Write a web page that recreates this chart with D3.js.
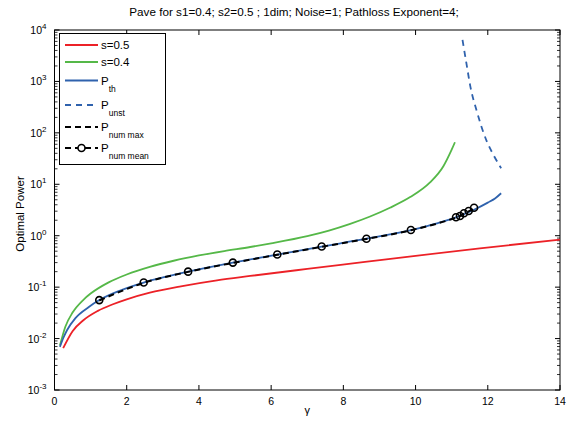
<!DOCTYPE html>
<html><head><meta charset="utf-8">
<script src="https://cdn.jsdelivr.net/npm/d3@7"></script>
<style>body{margin:0;background:#fff;} svg{font-family:"Liberation Sans",Arial,sans-serif;}</style>
</head><body>
<svg id="c" width="567" height="421"></svg>
<script>
const titleText = "Pave for s1=0.4; s2=0.5 ; 1dim; Noise=1; Pathloss Exponent=4;";
const xTicks = [0,2,4,6,8,10,12,14];
const yExps = [-3,-2,-1,0,1,2,3,4];
// s=0.5
const redX = [0.24,0.5,0.8,1.2,1.6,2.0,2.64,3.5,4.5,5.42,7.0,8.6,10.0,11.78,14];
const redY = [0.0065,0.0139,0.0227,0.0345,0.046,0.058,0.078,0.104,0.136,0.165,0.226,0.309,0.407,0.569,0.84];
// s=0.4
const greenX = [0.15,0.3,0.5,0.8,1.0,1.5,2.0,2.64,3.3,4.0,4.7,5.42,6.0,7.0,7.6,8.19,8.74,9.29,9.85,10.4,10.77,11.0,11.09];
const greenY = [0.0073,0.017,0.032,0.0568,0.075,0.124,0.176,0.248,0.326,0.413,0.503,0.603,0.712,0.983,1.26,1.70,2.36,3.50,5.64,10.9,22.5,47.2,65.7];
// P_th
const thX = [0.15,0.25,0.35,0.58,0.95,1.24,1.8,2.47,3.1,3.7,4.3,4.94,6.17,7.4,8.64,9.87,10.59,11.12,11.62,12.0,12.2,12.37];
const thY = [0.0069,0.0105,0.0147,0.025,0.041,0.056,0.085,0.123,0.16,0.2,0.245,0.30,0.43,0.615,0.875,1.29,1.74,2.28,3.2,4.4,5.3,6.7];
// P_unst
const unX = [11.30,11.42,11.51,11.70,11.97,12.15,12.37];
const unY = [6400,2000,850,257,69,38,20.5];
// P_num max
const maxX = [1.24,2.47,3.7,4.94,6.17,7.4,8.64,9.87,11.12,11.23,11.34,11.47,11.62];
const maxY = [0.055,0.121,0.198,0.296,0.425,0.61,0.865,1.28,2.25,2.4,2.68,2.98,3.4];
// P_num mean
const meanX = [1.24,2.47,3.7,4.94,6.17,7.4,8.64,9.87,11.12,11.23,11.34,11.47,11.62];
const meanY = [0.056,0.123,0.2,0.30,0.43,0.615,0.875,1.29,2.28,2.42,2.73,3.02,3.5];

const legendLabels = [["s=0.5",""],["s=0.4",""],["P","th"],["P","unst"],["P","num max"],["P","num mean"]];

const L=54.5,R=560,T=30,B=390;
const svg=d3.select("#c");
const x=d3.scaleLinear().domain([0,14]).range([L,R]);
const y=d3.scaleLog().domain([1e-3,1e4]).range([B,T]);

const ax=svg.append("g");
xTicks.forEach(v=>{
  ax.append("line").attr("x1",x(v)).attr("x2",x(v)).attr("y1",B).attr("y2",B-5).attr("stroke","#000");
  ax.append("line").attr("x1",x(v)).attr("x2",x(v)).attr("y1",T).attr("y2",T+5).attr("stroke","#000");
  ax.append("text").attr("x",x(v)).attr("y",B+15).attr("text-anchor","middle").attr("font-size",10.5).text(v);
});
yExps.forEach(e=>{
  const v=Math.pow(10,e);
  ax.append("line").attr("x1",L).attr("x2",L+5).attr("y1",y(v)).attr("y2",y(v)).attr("stroke","#000");
  ax.append("line").attr("x1",R).attr("x2",R-5).attr("y1",y(v)).attr("y2",y(v)).attr("stroke","#000");
  if(e<4){for(let m=2;m<=9;m++){const mv=m*v;
    ax.append("line").attr("x1",L).attr("x2",L+3).attr("y1",y(mv)).attr("y2",y(mv)).attr("stroke","#000").attr("stroke-width",0.8);
    ax.append("line").attr("x1",R).attr("x2",R-3).attr("y1",y(mv)).attr("y2",y(mv)).attr("stroke","#000").attr("stroke-width",0.8);}}
  const t=ax.append("text").attr("x",L-8).attr("y",y(v)+4).attr("text-anchor","end").attr("font-size",10.5);
  t.append("tspan").text("10");
  t.append("tspan").attr("dy",-5).attr("font-size",8).text(e);
});
svg.append("rect").attr("x",L).attr("y",T).attr("width",R-L).attr("height",B-T).attr("fill","none").attr("stroke","#000").attr("stroke-width",1);

const line=d3.line().x(d=>x(d[0])).y(d=>y(d[1])).curve(d3.curveMonotoneX);
const zip=(a,b)=>a.map((v,i)=>[v,b[i]]);
const g=svg.append("g");
g.append("path").attr("d",line(zip(redX,redY))).attr("fill","none").attr("stroke","#ec2127").attr("stroke-width",1.8);
g.append("path").attr("d",line(zip(greenX,greenY))).attr("fill","none").attr("stroke","#55b848").attr("stroke-width",1.8);
g.append("path").attr("d",line(zip(thX,thY))).attr("fill","none").attr("stroke","#2f62ad").attr("stroke-width",1.8);
g.append("path").attr("d",line(zip(unX,unY))).attr("fill","none").attr("stroke","#2f62ad").attr("stroke-width",1.8).attr("stroke-dasharray","6,5");
g.append("path").attr("d",line(zip(maxX,maxY))).attr("fill","none").attr("stroke","#000").attr("stroke-width",2).attr("stroke-dasharray","6,4");
g.selectAll("circle.m").data(zip(meanX,meanY)).enter().append("circle").attr("cx",d=>x(d[0])).attr("cy",d=>y(d[1])).attr("r",3.5).attr("fill","none").attr("stroke","#000").attr("stroke-width",1.6);

svg.append("text").attr("x",294).attr("y",16).attr("text-anchor","middle").attr("font-size",11.7).text(titleText);
svg.append("text").attr("x",(L+R)/2).attr("y",414).attr("text-anchor","middle").attr("font-size",11).text("γ");
svg.append("text").attr("transform","translate(24,214) rotate(-90)").attr("text-anchor","middle").attr("font-size",11.5).text("Optimal Power");

const lg=svg.append("g");
lg.append("rect").attr("x",59.5).attr("y",33.5).attr("width",106).attr("height",131).attr("fill","#fff").attr("stroke","#000").attr("stroke-width",1);
const rowsY=[45,62,80.5,105,127,148];
const styles=[{c:"#ec2127",d:null,w:1.8},{c:"#55b848",d:null,w:1.8},{c:"#2f62ad",d:null,w:1.8},{c:"#2f62ad",d:"6,5",w:1.8},{c:"#000",d:"6,4",w:2},{c:"#000",d:"6,4",w:2,m:true}];
legendLabels.forEach((lab,i)=>{
  const yy=rowsY[i], s=styles[i];
  const ln=lg.append("line").attr("x1",65).attr("x2",98).attr("y1",yy).attr("y2",yy).attr("stroke",s.c).attr("stroke-width",s.w);
  if(s.d) ln.attr("stroke-dasharray",s.d);
  if(s.m) lg.append("circle").attr("cx",81.5).attr("cy",yy).attr("r",3.5).attr("fill","#fff").attr("stroke","#000").attr("stroke-width",1.6);
  const t=lg.append("text").attr("x",101).attr("y",yy+4).attr("font-size",11.5);
  t.append("tspan").text(lab[0]);
  if(lab[1]) t.append("tspan").attr("dy",7).attr("font-size",8.5).text(lab[1]);
});
</script>
</body></html>
